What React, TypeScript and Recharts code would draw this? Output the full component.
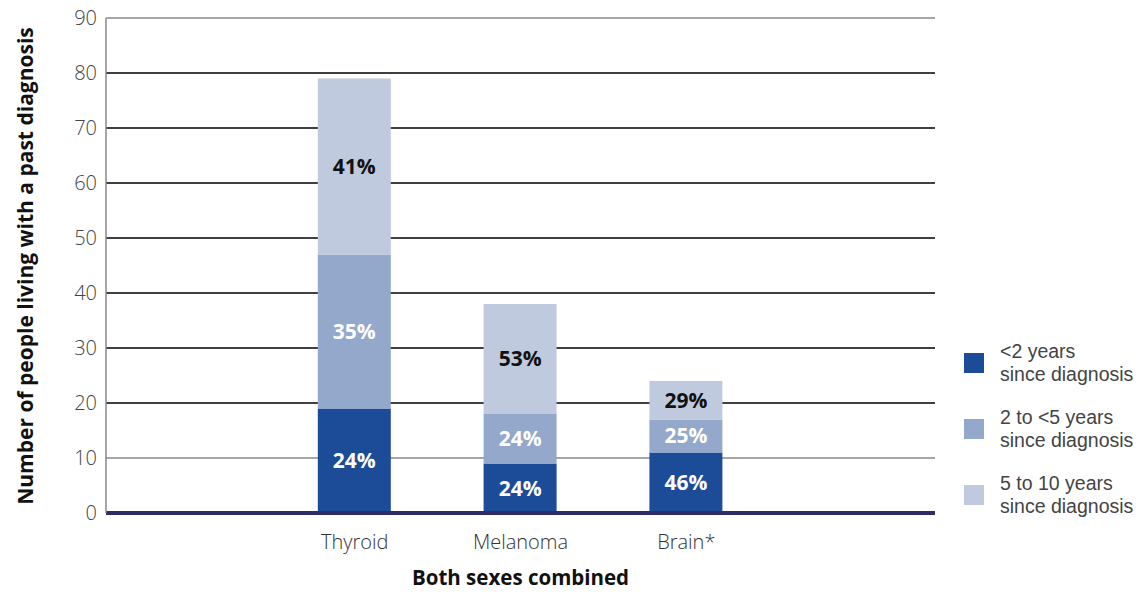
import {
  BarChart,
  Bar,
  XAxis,
  YAxis,
  CartesianGrid,
  LabelList,
} from "recharts";

const categories = ["", "Thyroid", "Melanoma", "Brain*", ""];
const under2 = [null, 19, 9, 11, null];
const twoTo5 = [null, 28, 9, 6, null];
const fiveTo10 = [null, 32, 20, 7, null];
const pctUnder2 = ["", "24%", "24%", "46%", ""];
const pctTwoTo5 = ["", "35%", "24%", "25%", ""];
const pctFiveTo10 = ["", "41%", "53%", "29%", ""];
const yTicks = [0, 10, 20, 30, 40, 50, 60, 70, 80, 90];
const darkGrid = [20, 30, 40, 50, 60, 70, 80];
const greyGrid = [10, 90];

const seriesInfo = [
  { key: "under2", pct: "pctUnder2", color: "#1c4b97", text: "#ffffff", lines: ["<2 years", "since diagnosis"] },
  { key: "twoTo5", pct: "pctTwoTo5", color: "#93a8cb", text: "#ffffff", lines: ["2 to <5 years", "since diagnosis"] },
  { key: "fiveTo10", pct: "pctFiveTo10", color: "#bfcadf", text: "#111111", lines: ["5 to 10 years", "since diagnosis"] },
];

const chartData = categories.map((name, i) => ({
  name,
  under2: under2[i],
  twoTo5: twoTo5[i],
  fiveTo10: fiveTo10[i],
  pctUnder2: pctUnder2[i],
  pctTwoTo5: pctTwoTo5[i],
  pctFiveTo10: pctFiveTo10[i],
}));

const FONT = "'Open Sans', sans-serif";
// tighter metrics so the two-line legend entries fit their 23px lines
const LEGEND_FONT = "'Liberation Sans', Arial, sans-serif";

function YLabel() {
  return (
    <text
      x={0}
      y={0}
      transform="translate(33, 266) rotate(-90)"
      textAnchor="middle"
      fontFamily={FONT}
      fontWeight={700}
      fontSize={21}
      fill="#111"
    >
      Number of people living with a past diagnosis
    </text>
  );
}

// legend sits to the right of the plot, outside the svg
function LegendBox() {
  return (
    <div
      style={{
        position: "absolute",
        left: 964,
        top: 340,
        fontFamily: LEGEND_FONT,
        fontSize: 19.5,
        color: "#444",
        lineHeight: "23px",
      }}
    >
      {seriesInfo.map((s) => (
        <div key={s.key} style={{ display: "flex", alignItems: "center", height: 46, marginBottom: 20 }}>
          <div style={{ width: 20, height: 20, background: s.color, marginRight: 16, flexShrink: 0 }} />
          <div style={{ whiteSpace: "nowrap" }}>
            {s.lines.map((l) => (
              <div key={l}>{l}</div>
            ))}
          </div>
        </div>
      ))}
    </div>
  );
}

export default function App() {
  return (
    <div style={{ position: "absolute", left: 0, top: 0, width: 1146, height: 592, background: "#fff" }}>
      <BarChart
        width={1146}
        height={592}
        data={chartData}
        margin={{ top: 18, right: 211, left: 0, bottom: 0 }}
        barCategoryGap="0%"
      >
        <CartesianGrid vertical={false} horizontalValues={darkGrid} stroke="#000" strokeWidth={1.4} />
        <CartesianGrid vertical={false} horizontalValues={greyGrid} stroke="#888" strokeWidth={1.5} />
        <XAxis
          dataKey="name"
          height={79}
          tickLine={false}
          tickSize={6}
          tickMargin={16}
          axisLine={{ stroke: "#2e2c63", strokeWidth: 4 }}
          tick={{ fill: "#333", fontSize: 20, fontWeight: 300, fontFamily: FONT }}
          label={{
            value: "Both sexes combined",
            position: "insideBottom",
            offset: 7,
            fill: "#111",
            fontSize: 20.5,
            fontWeight: 700,
            fontFamily: FONT,
          }}
        />
        <YAxis
          width={106}
          domain={[0, 90]}
          ticks={yTicks}
          interval={0}
          tickLine={false}
          tickSize={0}
          tickMargin={9}
          axisLine={{ stroke: "#888", strokeWidth: 1.5 }}
          tick={{ fill: "#444", fontSize: 20, fontWeight: 300, fontFamily: FONT }}
          label={<YLabel />}
        />
        {seriesInfo.map((s) => (
          <Bar key={s.key} dataKey={s.key} stackId="a" fill={s.color} barSize={73} isAnimationActive={false}>
            <LabelList
              dataKey={s.pct}
              position="center"
              fill={s.text}
              fontSize={21}
              fontWeight={700}
              fontFamily={FONT}
            />
          </Bar>
        ))}
      </BarChart>
      <LegendBox />
    </div>
  );
}
